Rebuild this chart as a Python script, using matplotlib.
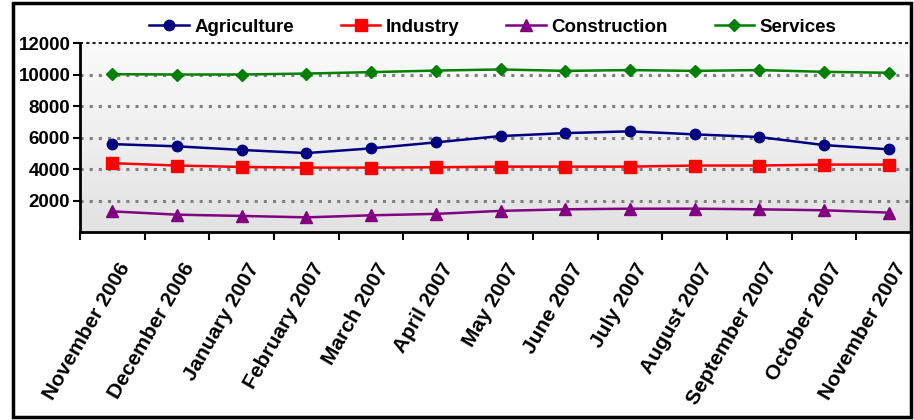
import numpy as np
import matplotlib
matplotlib.use("Agg")
import matplotlib.pyplot as plt
import matplotlib.transforms as mtransforms
from matplotlib.patches import Rectangle

plt.rcParams['font.family'] = ['Liberation Sans', 'DejaVu Sans']
plt.rcParams['font.weight'] = 'bold'

months = ["November 2006", "December 2006", "January 2007", "February 2007",
          "March 2007", "April 2007", "May 2007", "June 2007", "July 2007",
          "August 2007", "September 2007", "October 2007", "November 2007"]

agriculture = [5580, 5440, 5210, 5010, 5310, 5690, 6090, 6280, 6390, 6200, 6030, 5520, 5250]
industry = [4370, 4220, 4130, 4090, 4090, 4110, 4150, 4150, 4150, 4220, 4220, 4280, 4280]
construction = [1310, 1100, 1020, 930, 1060, 1150, 1340, 1440, 1480, 1480, 1440, 1380, 1230]
services = [10020, 10000, 10000, 10060, 10150, 10250, 10320, 10230, 10280, 10230, 10280, 10170, 10110]

series = [
    ("Agriculture", agriculture, "#000080", "o", 7.5),
    ("Industry", industry, "#FF0000", "s", 8.5),
    ("Construction", construction, "#800080", "^", 8),
    ("Services", services, "#008000", "D", 6.5),
]

W, H = 914, 420
fig = plt.figure(figsize=(W / 100, H / 100), dpi=100)

# outer chart frame, drawn above the plot area
frame = Rectangle((13 / W, 3 / H), (911 - 13) / W, (417 - 3) / H,
                  transform=fig.transFigure, fill=False,
                  edgecolor="black", linewidth=2.5, zorder=5)
fig.add_artist(frame)
# blank strip right of the frame
fig.add_artist(Rectangle((912 / W, 0), 2 / W, 1, transform=fig.transFigure,
                         facecolor="white", edgecolor="none", zorder=4))

x0, x1 = 80, 921
ytop, ybot = 43, 232
ax = fig.add_axes([x0 / W, 1 - ybot / H, (x1 - x0) / W, (ybot - ytop) / H])

n = len(months)
x = np.arange(n)
ax.set_xlim(-0.5, n - 0.5)
ax.set_ylim(0, 12000)

# gradient plot area
grad = np.linspace(0, 1, 256).reshape(-1, 1)
ax.imshow(grad, extent=(-0.5, n - 0.5, 0, 12000), aspect="auto",
          cmap=matplotlib.colors.LinearSegmentedColormap.from_list("g", ["#e2e2e2", "#fbfbfb"]),
          origin="lower", zorder=0)

for yv in [2000, 4000, 6000, 8000, 10000]:
    ax.axhline(yv, color="#808080", linestyle=(0, (1, 2)), linewidth=2.2, zorder=1)
ax.axhline(12000, color="#222222", linestyle=(0, (1.5, 1.5)), linewidth=1.5, zorder=1, clip_on=False)

handles = []
for name, vals, col, mk, ms in series:
    h, = ax.plot(x, vals, color=col, marker=mk, markersize=ms, linewidth=1.8,
                 markeredgecolor=col, label=name, zorder=3, clip_on=False)
    handles.append(h)

for s in ["top", "right"]:
    ax.spines[s].set_visible(False)
ax.spines["left"].set_linewidth(2)
ax.spines["bottom"].set_linewidth(2)

ax.set_yticks([2000, 4000, 6000, 8000, 10000, 12000])
ax.tick_params(axis="y", direction="out", length=5, width=1.5, labelsize=13.5, pad=2)

ax.set_xticks(np.arange(-0.5, n, 1), minor=True)
ax.tick_params(axis="x", which="minor", direction="out", length=6, width=1.5)
ax.set_xticks(x)
ax.set_xticklabels(months)
ax.tick_params(axis="x", which="major", length=0, labelsize=15, pad=20)
offset = mtransforms.ScaledTranslation(5 / 100, 0, fig.dpi_scale_trans)
for lab in ax.get_xticklabels():
    lab.set_rotation(60)
    lab.set_rotation_mode("anchor")
    lab.set_ha("right")
    lab.set_va("top")
    lab.set_transform(lab.get_transform() + offset)

fig.legend(handles=handles, loc="center", bbox_to_anchor=(493 / W, 1 - 27 / H),
           ncol=4, frameon=False, fontsize=13.5, handlelength=2.1,
           handletextpad=0.3, columnspacing=2.5, borderaxespad=0)

fig.savefig("out.png", dpi=100)
